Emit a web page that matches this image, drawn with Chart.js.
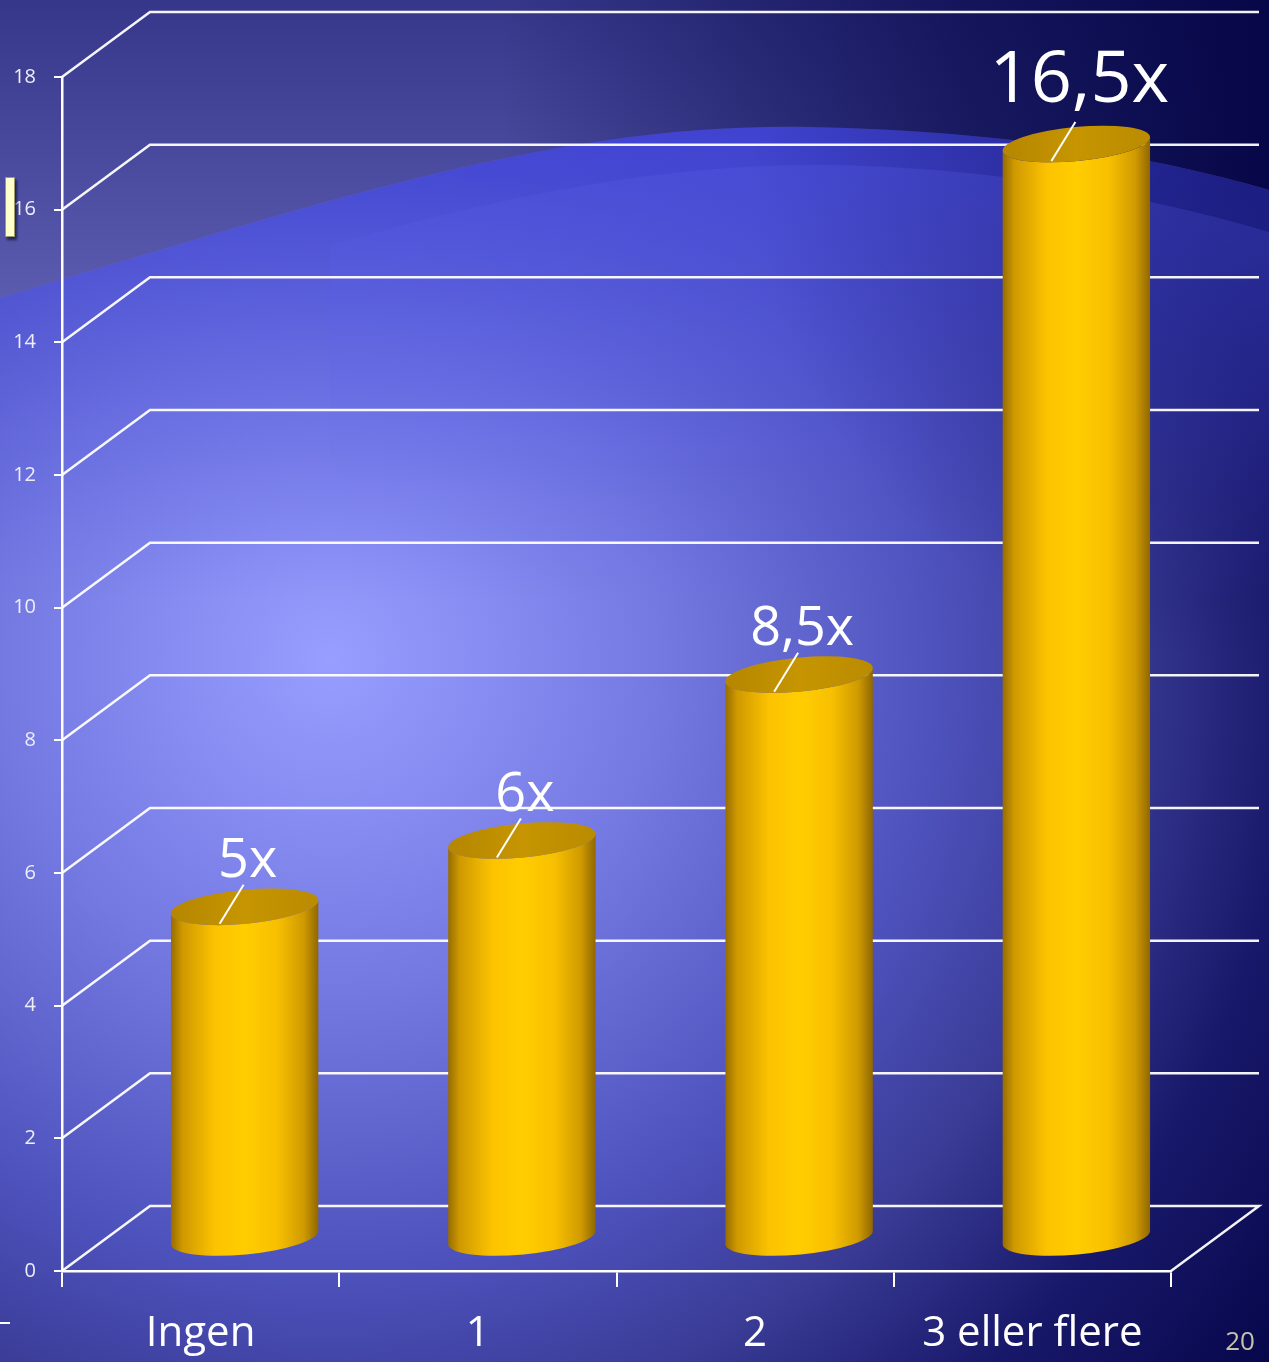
<!DOCTYPE html>
<html>
<head>
<meta charset="utf-8">
<script src="https://cdn.jsdelivr.net/npm/chart.js@4.4.1/dist/chart.umd.min.js"></script>
<style>
  html, body { margin: 0; padding: 0; background: #0a0a50; }
  canvas { display: block; }
</style>
</head>
<body>
<canvas id="c" width="1269" height="1362"></canvas>
<script>
// data
const categories = ['Ingen', '1', '2', '3 eller flere'];
const values = [5, 6, 8.5, 16.5];
const valueLabels = ['5x', '6x', '8,5x', '16,5x'];
const yTicks = [0, 2, 4, 6, 8, 10, 12, 14, 16, 18];

const FONT = "'Open Sans', 'Noto Sans', sans-serif";
const DEPTH = { dx: 88, dy: 65 };

function curve1(ctx) {
  ctx.moveTo(0, 298);
  ctx.bezierCurveTo(330, 200, 560, 122, 810, 127);
  ctx.bezierCurveTo(1010, 131, 1160, 158, 1269, 190);
}
function curve2(ctx) {
  ctx.moveTo(330, 245);
  ctx.bezierCurveTo(520, 190, 680, 163, 830, 165);
  ctx.bezierCurveTo(1010, 168, 1160, 200, 1269, 232);
}

const background = {
  id: 'background',
  beforeDraw(chart) {
    const { ctx, width, height } = chart;
    ctx.save();
    const g = ctx.createRadialGradient(330, 660, 0, 330, 660, 1180);
    g.addColorStop(0, '#979eff');
    g.addColorStop(0.28, '#7479e2');
    g.addColorStop(0.52, '#4d51bb');
    g.addColorStop(0.66, '#3a3c96');
    g.addColorStop(0.82, '#18186a');
    g.addColorStop(1, '#06064a');
    ctx.fillStyle = g;
    ctx.fillRect(0, 0, width, height);

    // saturated band under the wave
    ctx.beginPath();
    curve1(ctx);
    ctx.lineTo(1269, 900); ctx.lineTo(0, 900); ctx.closePath();
    const b = ctx.createLinearGradient(0, 130, 0, 600);
    b.addColorStop(0, 'rgba(62,66,214,0.85)');
    b.addColorStop(0.45, 'rgba(70,74,216,0.4)');
    b.addColorStop(1, 'rgba(80,84,220,0)');
    ctx.fillStyle = b;
    ctx.fill();
    // darken the right end of the band, fading out downwards
    ctx.clip();
    const bd = ctx.createRadialGradient(1269, 150, 0, 1269, 150, 520);
    bd.addColorStop(0, 'rgba(10,10,90,0.6)');
    bd.addColorStop(1, 'rgba(10,10,90,0)');
    ctx.fillStyle = bd;
    ctx.fillRect(600, 100, 669, 800);
    ctx.restore();
    ctx.save();

    // second softer ridge
    ctx.beginPath();
    curve2(ctx);
    ctx.lineTo(1269, 600); ctx.lineTo(330, 600); ctx.closePath();
    const b2 = ctx.createLinearGradient(0, 165, 0, 500);
    b2.addColorStop(0, 'rgba(90,95,235,0.25)');
    b2.addColorStop(1, 'rgba(90,95,235,0)');
    ctx.fillStyle = b2;
    ctx.fill();

    // area above the wave
    ctx.beginPath();
    curve1(ctx);
    ctx.lineTo(1269, 0); ctx.lineTo(0, 0); ctx.closePath();
    const t = ctx.createLinearGradient(0, 0, 0, 300);
    t.addColorStop(0, '#36378a');
    t.addColorStop(1, '#5b5cb0');
    ctx.fillStyle = t;
    ctx.fill();
    const td = ctx.createLinearGradient(500, 0, 1269, 0);
    td.addColorStop(0, 'rgba(6,6,72,0)');
    td.addColorStop(0.6, 'rgba(6,6,72,0.7)');
    td.addColorStop(1, 'rgba(6,6,72,1)');
    ctx.fillStyle = td;
    ctx.fill();
    ctx.restore();
  }
};

const walls = {
  id: 'walls',
  beforeDatasetsDraw(chart) {
    const { ctx, chartArea } = chart;
    const y = chart.scales.y;
    const { dx, dy } = DEPTH;
    ctx.save();
    ctx.strokeStyle = 'rgba(255,255,255,0.95)';
    ctx.lineWidth = 2.5;
    ctx.lineJoin = 'miter';
    y.ticks.forEach(t => {
      const py = y.getPixelForValue(t.value);
      ctx.beginPath();
      ctx.moveTo(chartArea.left, py);
      ctx.lineTo(chartArea.left + dx, py - dy);
      ctx.lineTo(chartArea.right + dx, py - dy);
      if (t.value === 0) ctx.lineTo(chartArea.right, py);
      ctx.stroke();
    });
    ctx.restore();
  }
};

const cylinders = {
  id: 'cylinders',
  afterDatasetsDraw(chart) {
    const { ctx } = chart;
    const meta = chart.getDatasetMeta(0);
    const { dx, dy } = DEPTH;
    const rot = -0.095;
    meta.data.forEach((bar, i) => {
      const rx = bar.width / 2;
      const ry = 17;
      const cx = bar.x + dx / 2;
      const yTop = bar.y - dy / 2;
      const yBot = bar.base - dy / 2;
      ctx.save();
      const side = ctx.createLinearGradient(cx - rx, 0, cx + rx, 0);
      side.addColorStop(0, '#946b00');
      side.addColorStop(0.08, '#cf9900');
      side.addColorStop(0.3, '#fcc300');
      side.addColorStop(0.5, '#ffcd00');
      side.addColorStop(0.72, '#f8c000');
      side.addColorStop(0.9, '#cf9a00');
      side.addColorStop(1, '#8e6600');
      ctx.beginPath();
      ctx.ellipse(cx, yBot, rx, ry, rot, 0, Math.PI, false);
      ctx.ellipse(cx, yTop, rx, ry, rot, Math.PI, 0, true);
      ctx.closePath();
      ctx.fillStyle = side;
      ctx.fill();

      const top = ctx.createLinearGradient(cx - rx, yTop, cx + rx, yTop);
      top.addColorStop(0, '#b58600');
      top.addColorStop(0.5, '#c69500');
      top.addColorStop(1, '#bb8b00');
      ctx.beginPath();
      ctx.ellipse(cx, yTop, rx, ry, rot, 0, Math.PI * 2);
      ctx.fillStyle = top;
      ctx.fill();

      // leader line + value
      ctx.strokeStyle = '#ffffff';
      ctx.lineWidth = 2;
      ctx.beginPath();
      ctx.moveTo(cx - 25, yTop + 17);
      ctx.lineTo(cx - 1, yTop - 22);
      ctx.stroke();
      const big = i === values.length - 1;
      ctx.fillStyle = '#ffffff';
      ctx.font = (big ? 72 : 54) + 'px ' + FONT;
      ctx.textAlign = 'center';
      ctx.textBaseline = 'alphabetic';
      ctx.fillText(valueLabels[i], cx + 3, yTop - (big ? 42 : 30));
      ctx.restore();
    });
  },
  afterDraw(chart) {
    const { ctx } = chart;
    ctx.save();
    // small note marker on the left
    ctx.shadowColor = 'rgba(0,0,30,0.6)';
    ctx.shadowOffsetX = 2; ctx.shadowOffsetY = 3; ctx.shadowBlur = 3;
    ctx.fillStyle = '#ffffcc';
    ctx.fillRect(5, 177, 10, 60);
    ctx.shadowColor = 'transparent';
    ctx.strokeStyle = '#9c9a6a';
    ctx.lineWidth = 1;
    ctx.strokeRect(5.5, 177.5, 9, 59);
    ctx.strokeStyle = '#ffffff';
    ctx.lineWidth = 2;
    ctx.beginPath(); ctx.moveTo(0, 1323); ctx.lineTo(10, 1323); ctx.stroke();
    // slide number
    ctx.fillStyle = '#c9c2aa';
    ctx.font = '26px ' + FONT;
    ctx.textAlign = 'center';
    ctx.fillText('20', 1240, 1350);
    ctx.restore();
  }
};

new Chart(document.getElementById('c'), {
  type: 'bar',
  data: {
    labels: categories,
    datasets: [{
      data: values,
      backgroundColor: 'rgba(0,0,0,0)',
      borderWidth: 0,
      categoryPercentage: 1,
      barPercentage: 0.534,
    }],
  },
  options: {
    responsive: false,
    animation: false,
    layout: { padding: { top: 77, right: 98, left: 0, bottom: 0 } },
    plugins: { legend: { display: false }, tooltip: { enabled: false } },
    scales: {
      x: {
        grid: { offset: true, drawOnChartArea: false, tickLength: 16, color: '#ffffff', lineWidth: 2 },
        border: { color: '#ffffff', width: 2.5 },
        ticks: { color: '#ffffff', font: { family: FONT, size: 42 }, padding: 22, maxRotation: 0, autoSkip: false },
        afterFit: s => { s.height = 91; },
      },
      y: {
        min: 0, max: 18,
        afterBuildTicks: s => { s.ticks = yTicks.map(v => ({ value: v })); },
        ticks: { color: '#eeeefa', font: { family: FONT, size: 20 }, padding: 18 },
        grid: { drawOnChartArea: false, tickLength: 8, color: '#ffffff', lineWidth: 2 },
        border: { color: '#ffffff', width: 2.5 },
        afterFit: s => { s.width = 62; },
      },
    },
  },
  plugins: [background, walls, cylinders],
});
</script>
</body>
</html>
